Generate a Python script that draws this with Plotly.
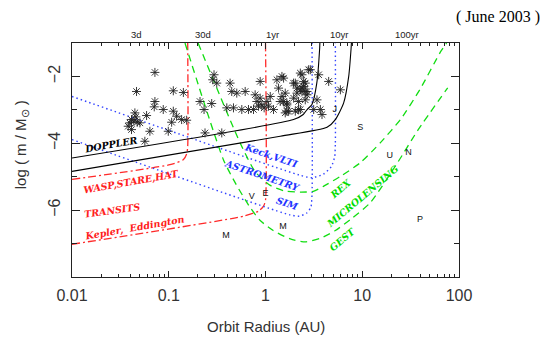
import math
import plotly.graph_objects as go

# ---------------- data (log10 a [AU], log10 m [Msun]) ----------------
planet_loga = [-1.143, -1.333, -0.953, -0.849, -1.143, -1.150, -1.350, -1.340, -1.229, -1.385,
               -1.402, -1.361, -1.326, -1.419, -1.298, -1.385, -1.195, -1.247, -1.057, -0.953,
               -0.919, -0.867, -0.815, -0.970, -1.005, -0.677, -0.635, -0.556, -0.532, -0.545,
               -0.504, -0.366, -0.349, -0.297, -0.331, -0.400, -0.245, -0.210, -0.176, -0.124,
               -0.089, -0.107, -0.055, -0.055, -0.038, -0.014, -0.072, 0.014, 0.031, 0.049,
               0.083, 0.118, 0.135, 0.152, 0.170, 0.204, 0.221, 0.239, 0.290, 0.325,
               0.342, 0.360, 0.377, 0.411, 0.429, 0.446, -0.625, -0.452,
               0.187, 0.308, 0.360, 0.377, 0.394, 0.411, 0.429, 0.463, 0.170, 0.187,
               0.221, 0.291, 0.325, 0.342, 0.308, 0.221, 0.204, 0.360, 0.498, 0.532,
               0.550, 0.567, 0.584, 0.653, 0.774, 0.394, 0.377, 0.411]
planet_logm = [-1.88, -2.45, -2.43, -2.48, -2.75, -2.91, -3.09, -3.21, -3.17, -3.29,
               -3.39, -3.34, -3.37, -3.49, -3.39, -3.59, -3.64, -3.94, -2.99, -3.04,
               -3.19, -3.29, -3.31, -3.37, -3.64, -2.75, -2.99, -2.81, -1.95, -2.10,
               -2.20, -2.20, -2.45, -2.50, -2.94, -2.94, -2.99, -2.45, -2.99, -2.99,
               -2.75, -2.55, -2.15, -2.65, -2.85, -2.94, -2.89, -2.75, -2.89, -2.60,
               -2.99, -2.10, -2.35, -2.75, -2.00, -2.50, -2.80, -3.04, -2.20, -2.35,
               -2.99, -2.40, -1.95, -2.20, -2.45, -1.80, -3.69, -3.69,
               -2.05, -2.20, -1.90, -2.35, -2.15, -2.45, -2.55, -1.80, -2.60, -2.75,
               -2.85, -2.65, -2.50, -2.75, -3.04, -3.04, -3.09, -2.99, -2.99, -2.70,
               -1.95, -2.99, -3.14, -2.15, -2.40, -2.30, -2.45, -2.70]

doppler_a_loga = [-2.0, 0.29, 0.39, 0.43, 0.48, 0.53, 0.56, 0.562]
doppler_a_logm = [-4.44, -3.29, -3.14, -2.99, -2.84, -2.20, -1.15, -1.0]
doppler_b_loga = [-2.0, 0.152, 0.636, 0.722, 0.808, 0.860, 0.885, 0.888]
doppler_b_logm = [-4.84, -3.79, -3.52, -3.29, -2.79, -2.0, -1.15, -1.0]

keck_loga = [-2.0, 0.35, 0.48, 0.60, 0.68, 0.715, 0.722, 0.722]
keck_logm = [-2.60, -4.95, -5.03, -4.92, -4.70, -4.40, -4.0, -1.0]
sim_loga = [-2.0, 0.25, 0.35, 0.43, 0.47, 0.481, 0.481]
sim_logm = [-3.89, -6.14, -6.18, -6.08, -5.90, -5.5, -1.0]

rex_loga = [-0.697, -0.262, -0.107, 0.049, 0.204, 0.360, 0.494, 0.598, 0.774, 0.981, 1.188, 1.40, 1.60, 1.810, 1.872]
rex_logm = [-1.0, -3.99, -4.85, -5.26, -5.43, -5.46, -5.44, -5.29, -4.99, -4.58, -3.98, -3.27, -2.37, -1.26, -1.0]
gest_loga = [-0.832, -0.435, -0.304, -0.159, -0.055, 0.080, 0.256, 0.411, 0.567, 0.722, 0.878, 1.085, 1.365, 1.572, 1.883]
gest_logm = [-1.0, -4.49, -5.23, -5.92, -6.31, -6.61, -6.86, -6.95, -6.84, -6.61, -6.28, -5.77, -4.58, -3.62, -2.34]

wasp_loga = [-2.0, -0.988, -0.85, -0.815, -0.804, -0.804]
wasp_logm = [-5.08, -4.64, -4.49, -4.32, -4.09, -1.0]
kepler_loga = [-2.0, -0.228, -0.073, -0.02, 0.0, 0.0]
kepler_logm = [-7.02, -6.18, -6.03, -5.88, -5.70, -1.0]

ss_names = ["V", "E", "M", "M", "J", "S", "U", "N", "P"]
ss_a = [0.72, 1.0, 1.52, 0.39, 5.2, 9.54, 19.2, 30.1, 39.5]
ss_logm = [-5.61, -5.52, -6.49, -6.78, -3.0, -3.54, -4.36, -4.29, -6.28]

period_labels = ["3d", "30d", "1yr", "10yr", "100yr"]
period_years = [3 / 365.25, 30 / 365.25, 1.0, 10.0, 100.0]

x_tickvals = [0.01, 0.1, 1, 10, 100]
x_ticktext = ["0.01", "0.1", "1", "10", "100"]
x_minor = [m * 10.0 ** e for e in range(-2, 2) for m in range(2, 10)]
y_tickvals = [-6, -4, -2]
y_ticktext = ["\u22126", "\u22124", "\u22122"]
y_minor = [-7, -5, -3]

# labels: text, log a, log m, angle, colour
method_labels = [
    ("DOPPLER", -1.598, -4.04, -10, "#000000"),
    ("Keck,VLTI", 0.059, -4.37, 19, "#2233ff"),
    ("ASTROMETRY", -0.032, -4.95, 19, "#2233ff"),
    ("SIM", 0.225, -5.80, 19, "#2233ff"),
    ("REX", 0.775, -5.34, -40, "#00dd00"),
    ("MICROLENSING", 0.997, -5.58, -40, "#00dd00"),
    ("GEST", 0.790, -6.87, -40, "#00dd00"),
    ("WASP,STARE,HAT", -1.381, -5.17, -10, "#ff2020"),
    ("TRANSITS", -1.588, -6.01, -8, "#ff2020"),
    ("Kepler,  Eddington", -1.350, -6.52, -10, "#ff2020"),
]

RED = "#ff2a2a"
BLUE = "#3344ff"
GREEN = "#11dd11"

fig = go.Figure()


def pw(v):
    return [10.0 ** x for x in v]


def line(lx, ly, color, dash, width=1.3):
    fig.add_trace(go.Scatter(x=pw(lx), y=ly, mode="lines",
                             line=dict(color=color, dash=dash, width=width, shape="spline", smoothing=0.6),
                             hoverinfo="skip", showlegend=False))


line(wasp_loga, wasp_logm, RED, "8px,3px,2px,3px")
line(kepler_loga, kepler_logm, RED, "8px,3px,2px,3px")
line(keck_loga, keck_logm, BLUE, "1.5px,3px", 1.4)
line(sim_loga, sim_logm, BLUE, "1.5px,3px", 1.4)
line(rex_loga, rex_logm, GREEN, "7px,5px")
line(gest_loga, gest_logm, GREEN, "7px,5px")
line(doppler_a_loga, doppler_a_logm, "#000000", "solid", 1.1)
line(doppler_b_loga, doppler_b_logm, "#000000", "solid", 1.1)

fig.add_trace(go.Scatter(x=pw(planet_loga), y=planet_logm, mode="markers",
                         marker=dict(symbol="asterisk-open", size=7.5, color="#222222",
                                     line=dict(color="#222222", width=0.9)),
                         hoverinfo="skip", showlegend=False))

fig.add_trace(go.Scatter(x=ss_a, y=ss_logm, mode="text", text=ss_names,
                         textfont=dict(family="Liberation Sans", size=9, color="#111111"),
                         hoverinfo="skip", showlegend=False))

annotations = []
for txt, lx, ly, ang, col in method_labels:
    annotations.append(dict(x=lx, y=ly, xref="x", yref="y", text="<b><i>" + txt + "</i></b>",
                            showarrow=False, textangle=ang,
                            font=dict(family="DejaVu Serif", size=9.5, color=col)))

for lab, py in zip(period_labels, period_years):
    annotations.append(dict(x=math.log10(py ** (2.0 / 3.0)), y=1, xref="x", yref="paper",
                            yanchor="bottom", xanchor="left", yshift=1, xshift=-2, text=lab,
                            showarrow=False,
                            font=dict(family="Liberation Sans", size=9.5, color="#222222")))

annotations.append(dict(x=1.10, y=1.112, xref="paper", yref="paper", text="( June 2003 )",
                        showarrow=False, xanchor="center", yanchor="middle",
                        font=dict(family="Liberation Serif", size=16, color="#000000")))
annotations.append(dict(x=0.5, y=-0.21, xref="paper", yref="paper", text="Orbit Radius (AU)",
                        showarrow=False, xanchor="center", yanchor="middle",
                        font=dict(family="Liberation Sans", size=15, color="#333")))
annotations.append(dict(x=-0.130, y=0.566, xref="paper", yref="paper",
                        text="log ( m / M<sub>\u2299</sub> )", textangle=-90,
                        showarrow=False, xanchor="center", yanchor="middle",
                        font=dict(family="Liberation Sans", size=15, color="#333")))

fig.update_layout(
    width=549, height=344,
    margin=dict(l=64, r=98, t=35, b=75, autoexpand=False),
    paper_bgcolor="white", plot_bgcolor="white",
    annotations=annotations,
    xaxis=dict(type="log", range=[-2, 2], tickvals=x_tickvals, ticktext=x_ticktext,
               ticks="inside", ticklen=6, tickcolor="#222", mirror="allticks", automargin=False,
               showline=True, linecolor="#222", linewidth=1, showgrid=False, zeroline=False,
               ticklabelstandoff=4,
               minor=dict(tickvals=x_minor, ticks="inside", ticklen=3, tickcolor="#222", showgrid=False),
               tickfont=dict(family="Liberation Sans", size=16, color="#333")),
    yaxis=dict(range=[-8, -1], tickvals=y_tickvals, ticktext=y_ticktext, tickangle=-90,
               ticks="inside", ticklen=8, tickcolor="#222", mirror="allticks", automargin=False,
               showline=True, linecolor="#222", linewidth=1, showgrid=False, zeroline=False,
               ticklabelstandoff=5,
               minor=dict(tickvals=y_minor, ticks="inside", ticklen=5, tickcolor="#222", showgrid=False),
               tickfont=dict(family="Liberation Sans", size=16, color="#333")),
)

fig.write_html("out.html")
